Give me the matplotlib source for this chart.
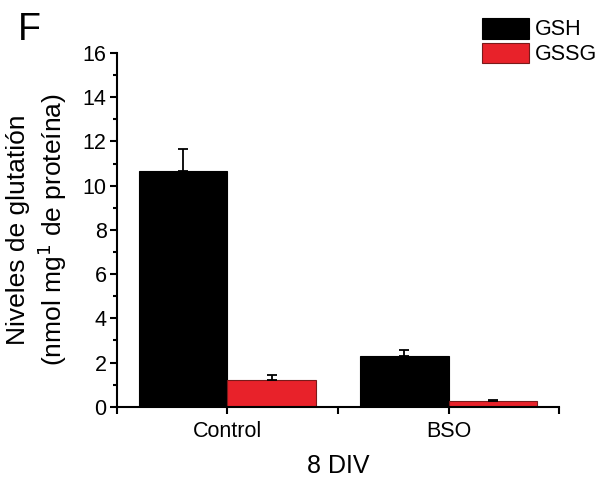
import numpy as np
import matplotlib.pyplot as plt
from matplotlib.ticker import MultipleLocator

plt.rcParams['font.family'] = ['Liberation Sans', 'DejaVu Sans']

groups = ['Control', 'BSO']
gsh = [10.65, 2.28]
gsh_err = [1.02, 0.27]
gssg = [1.22, 0.27]
gssg_err = [0.23, 0.03]

fig = plt.figure(figsize=(6.09, 4.82), dpi=100)
ax = fig.add_axes([0.192, 0.156, 0.726, 0.734])

x = np.array([1, 3])
w = 0.8
ax.bar(x - w / 2, gsh, w, color='black', edgecolor='black', linewidth=0.8, label='GSH')
ax.bar(x + w / 2, gssg, w, color='#e8222a', edgecolor='#7a1a1a', linewidth=0.8, label='GSSG')
ax.errorbar(x - w / 2, gsh, yerr=[np.zeros(2), gsh_err], fmt='none', ecolor='black',
            elinewidth=1.3, capsize=3.5, capthick=1.3)
ax.errorbar(x + w / 2, gssg, yerr=[np.zeros(2), gssg_err], fmt='none', ecolor='black',
            elinewidth=1.3, capsize=3.5, capthick=1.3)

ax.set_xlim(0, 4)
ax.set_ylim(0, 16)
ax.set_xticks([0, 1, 2, 3, 4])
ax.set_xticklabels(['', groups[0], '', groups[1], ''])
ax.yaxis.set_major_locator(MultipleLocator(2))
ax.yaxis.set_minor_locator(MultipleLocator(1))
ax.tick_params(axis='both', which='major', labelsize=15.5, width=1.5, length=5, pad=2.5)
ax.tick_params(axis='x', pad=5)
ax.tick_params(axis='y', which='minor', width=1.5, length=3)

for s in ['top', 'right']:
    ax.spines[s].set_visible(False)
for s in ['left', 'bottom']:
    ax.spines[s].set_linewidth(1.5)

ax.set_ylabel('Niveles de glutatión\n(nmol mg$^{1}$ de proteína)', fontsize=19)
ax.yaxis.set_label_coords(-0.108, 0.5)
ax.set_xlabel('8 DIV', fontsize=18)
ax.xaxis.set_label_coords(0.5, -0.133)

fig.text(0.03, 0.917, 'F', fontsize=27, va='baseline')

ax.legend(loc='upper left', bbox_to_anchor=(0.791, 0.963), bbox_transform=fig.transFigure,
          frameon=False, fontsize=15.5, borderpad=0, borderaxespad=0,
          handlelength=2.2, handleheight=1.1, labelspacing=0.1, handletextpad=0.25)

fig.savefig('out.png', dpi=100)
